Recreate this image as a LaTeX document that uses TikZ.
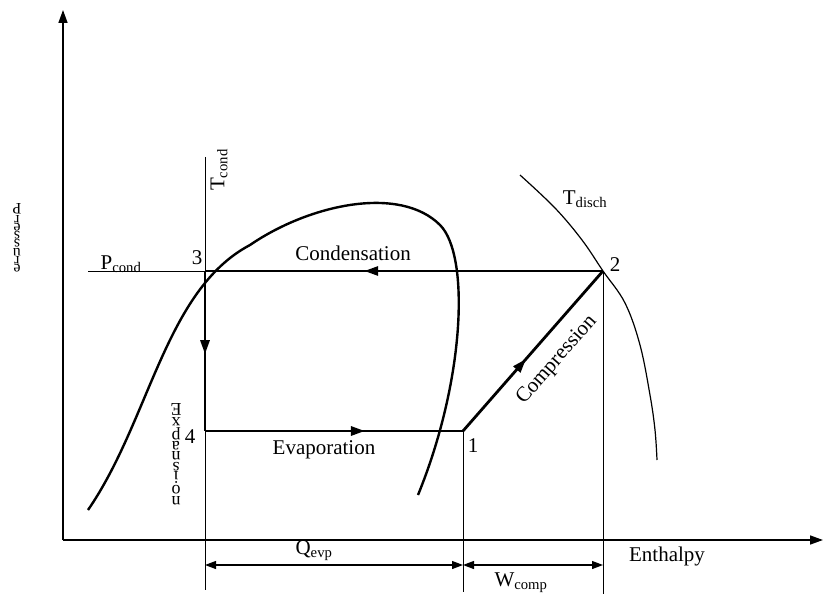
\documentclass[tikz,border=0pt]{standalone}
\usepackage{fontspec}
\setmainfont{Liberation Serif}
\usetikzlibrary{arrows.meta,decorations.markings}
\tikzset{
  lbl/.style={font=\fontsize{21}{24}\selectfont, inner sep=0pt},
  thin line/.style={line width=1pt},
  cyc/.style={line width=2.8pt},
  midarrow/.style={postaction={decorate},decoration={markings,mark=at position #1 with {\arrow{Triangle[length=14pt,width=9pt]}}}},
  dim/.style={line width=1.2pt,{Triangle[length=11pt,width=8pt]}-{Triangle[length=11pt,width=8pt]}},
  axis/.style={line width=1.6pt,-{Triangle[length=13pt,width=9pt]}},
  stackl/.style={font=\fontsize{18}{10.5}\selectfont, align=center, inner sep=0pt},
}
\newcommand{\rl}[1]{\rotatebox[origin=c]{180}{#1}}
\begin{document}
\begin{tikzpicture}[x=1pt,y=-1pt]
\useasboundingbox (0,0) rectangle (824,596);
% axes
\coordinate (o) at (63,540);
\coordinate (ytop) at (63,10);
\coordinate (xend) at (823,540);
\draw[axis] (o) -- (ytop);
\draw[axis] (o) -- (xend);
% cycle points
\coordinate (p1) at (463,431);
\coordinate (p2) at (603,271);
\coordinate (p3) at (205,271);
\coordinate (p4) at (205,431);
% thin reference lines
\coordinate (tctop) at (205,157);
\coordinate (tcbot) at (205,590);
\coordinate (pcl) at (88,271);
\coordinate (v1bot) at (463,592);
\coordinate (v2bot) at (603,594);
\draw[thin line] (tctop) -- (tcbot);
\draw[thin line] (pcl) -- (p3);
\draw[thin line] (p1) -- (v1bot);
\draw[thin line] (p2) -- (v2bot);
% saturation dome
\draw[line width=2.4pt] (88,510) .. controls (150,420) and (165,290) .. (250,245)
  .. controls (310,204) and (400,185) .. (440,225)
  .. controls (470,255) and (465,380) .. (418,495);
% discharge isotherm
\draw[line width=1.2pt] plot[smooth, tension=0.6] coordinates {(520,175) (555,208) (582,240) (603,271) (625,303) (640,345) (650,395) (655,430) (657,460)};
% cycle
\draw[cyc, midarrow=0.6] (p2) -- (p3);
\draw[cyc, midarrow=0.52] (p3) -- (p4);
\draw[cyc, midarrow=0.62] (p4) -- (p1);
\draw[cyc, midarrow=0.45] (p1) -- (p2);
% dimension lines
\coordinate (d1) at (205,565);
\coordinate (d2) at (463,565);
\coordinate (d3) at (603,565);
\draw[dim] (d2) -- (d1);
\draw[dim] (d2) -- (d3);
% labels
\node[lbl] (qevp) at (314,551) {Q\textsubscript{evp}};
\node[lbl] (wcomp) at (521,583) {W\textsubscript{comp}};
\node[lbl] (enth) at (667,556) {Enthalpy};
\node[lbl] (cond) at (353,253) {Condensation};
\node[lbl] (evap) at (324,450) {Evaporation};
\node[lbl, rotate=48.8] (comp) at (557,360) {Compression};
\node[lbl] (n1) at (473,446) {1};
\node[lbl] (n2) at (615,265) {2};
\node[lbl] (n3) at (197,258) {3};
\node[lbl] (n4) at (190,437) {4};
\node[lbl] (pcond) at (121,264) {P\textsubscript{cond}};
\node[lbl, rotate=90] (tcond) at (219,170) {T\textsubscript{cond}};
\node[lbl] (tdisch) at (585,199) {T\textsubscript{disch}};
% garbled vertical labels
\node[stackl] (expn) at (176,454) {\rl{E}\\\rl{x}\\\rl{p}\\\rl{a}\\\rl{n}\\\rl{s}\\\rl{i}\\\rl{o}\\\rl{n}};
\begin{scope}
\clip (13,200) rectangle (30,280);
\node[stackl, font=\fontsize{16}{8.2}\selectfont] (pres) at (17,238) {\rl{P}\\\rl{r}\\\rl{e}\\\rl{s}\\\rl{s}\\\rl{u}\\\rl{r}\\\rl{e}};
\end{scope}
\end{tikzpicture}
\end{document}
